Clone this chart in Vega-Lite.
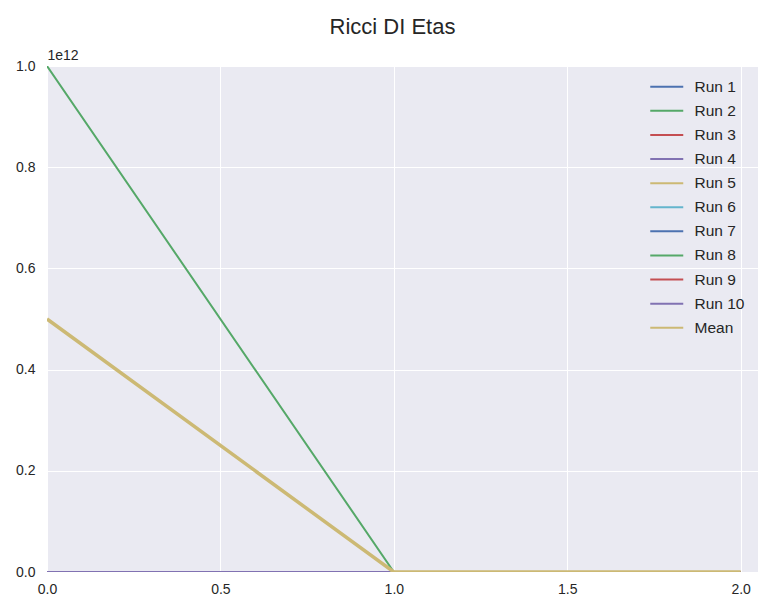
{
  "$schema": "https://vega.github.io/schema/vega-lite/v6.json",
  "autosize": {"type": "none"},
  "padding": {"left": 47, "top": 66, "right": 0, "bottom": 33},
  "width": 711,
  "height": 506,
  "background": "white",
  "title": {"text": "Ricci DI Etas", "anchor": "middle", "dx": -10, "offset": -8, "baseline": "alphabetic", "fontSize": 22, "fontWeight": "normal", "font": "Liberation Sans", "color": "#262626"},
  "config": {
    "view": {"fill": "#EAEAF2", "stroke": null},
    "axis": {"domain": false, "ticks": false, "grid": true, "gridColor": "white", "gridWidth": 1, "labelFont": "Liberation Sans", "labelFontSize": 14, "labelColor": "#262626"},
    "legend": {"labelFont": "Liberation Sans", "labelFontSize": 15.5, "labelColor": "#262626"}
  },
  "data": {"values": [
    {"x": 0, "y": 0, "series": "Run 1"}, {"x": 1, "y": 0, "series": "Run 1"}, {"x": 2, "y": 0, "series": "Run 1"},
    {"x": 0, "y": 1e12, "series": "Run 2"}, {"x": 1, "y": 0, "series": "Run 2"}, {"x": 2, "y": 0, "series": "Run 2"},
    {"x": 0, "y": 0, "series": "Run 3"}, {"x": 1, "y": 0, "series": "Run 3"}, {"x": 2, "y": 0, "series": "Run 3"},
    {"x": 0, "y": 0, "series": "Run 4"}, {"x": 1, "y": 0, "series": "Run 4"}, {"x": 2, "y": 0, "series": "Run 4"},
    {"x": 0, "y": 0, "series": "Run 5"}, {"x": 1, "y": 0, "series": "Run 5"}, {"x": 2, "y": 0, "series": "Run 5"},
    {"x": 0, "y": 0, "series": "Run 6"}, {"x": 1, "y": 0, "series": "Run 6"}, {"x": 2, "y": 0, "series": "Run 6"},
    {"x": 0, "y": 0, "series": "Run 7"}, {"x": 1, "y": 0, "series": "Run 7"}, {"x": 2, "y": 0, "series": "Run 7"},
    {"x": 0, "y": 0, "series": "Run 8"}, {"x": 1, "y": 0, "series": "Run 8"}, {"x": 2, "y": 0, "series": "Run 8"},
    {"x": 0, "y": 0, "series": "Run 9"}, {"x": 1, "y": 0, "series": "Run 9"}, {"x": 2, "y": 0, "series": "Run 9"},
    {"x": 0, "y": 0, "series": "Run 10"}, {"x": 1, "y": 0, "series": "Run 10"}, {"x": 2, "y": 0, "series": "Run 10"},
    {"x": 0, "y": 5e11, "series": "Mean"}, {"x": 1, "y": 0, "series": "Mean"}, {"x": 2, "y": 0, "series": "Mean"}
  ]},
  "encoding": {
    "x": {"field": "x", "type": "quantitative", "scale": {"domain": [0, 2.05], "nice": false, "zero": false},
          "axis": {"values": [0, 0.5, 1, 1.5, 2], "format": ".1f", "title": null, "labelPadding": 10, "labelFlush": false}},
    "y": {"field": "y", "type": "quantitative", "scale": {"domain": [0, 1e12], "nice": false},
          "axis": {"values": [0, 2e11, 4e11, 6e11, 8e11, 1e12], "labelExpr": "format(datum.value / 1e12, '.1f')", "labelPadding": 12,
                   "title": "1e12", "titleAngle": 0, "titleX": 0, "titleY": -4, "titleAlign": "left", "titleBaseline": "bottom",
                   "titleFont": "Liberation Sans", "titleFontSize": 14, "titleFontWeight": "normal", "titleColor": "#262626", "labelFlush": false}},
    "color": {"field": "series", "type": "nominal",
              "scale": {"domain": ["Run 1", "Run 2", "Run 3", "Run 4", "Run 5", "Run 6", "Run 7", "Run 8", "Run 9", "Run 10", "Mean"],
                        "range": ["#4C72B0", "#55A868", "#C44E52", "#8172B2", "#CCB974", "#64B5CD", "#4C72B0", "#55A868", "#C44E52", "#8172B2", "#CCB974"]},
              "legend": {"title": null, "orient": "none", "legendX": 612, "legendY": 13, "symbolType": "M-3,0H3", "symbolSize": 121, "symbolStrokeWidth": 2, "labelOffset": 20, "rowPadding": 7.1}}
  },
  "layer": [
    {"transform": [{"filter": "datum.series !== 'Mean'"}], "mark": {"type": "line", "strokeWidth": 2, "clip": true}},
    {"transform": [{"filter": "datum.series === 'Mean'"}], "mark": {"type": "line", "strokeWidth": 3.5, "clip": true}}
  ]
}
